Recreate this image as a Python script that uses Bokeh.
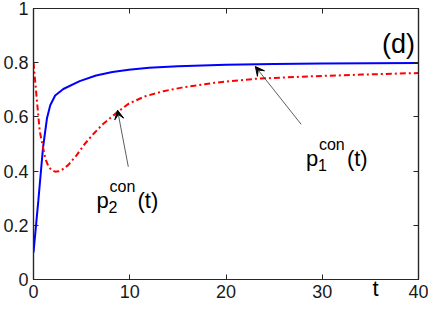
from bokeh.plotting import figure
from bokeh.models import Range1d, FixedTicker, LinearAxis, Label, Arrow, VeeHead
from bokeh.embed import file_html
from bokeh.resources import INLINE

# ---- data ----
t_p1 = [0, 0.5, 0.99, 1.4, 1.74, 2.25, 3.1, 4.8, 6.5, 8.2, 9.9, 12, 15, 20, 25, 30, 35, 40]
p1_con = [0.10, 0.29, 0.487, 0.595, 0.643, 0.679, 0.703, 0.732, 0.753, 0.766, 0.774,
          0.781, 0.787, 0.792, 0.795, 0.797, 0.798, 0.799]

t_p2 = [0, 0.2, 0.38, 0.65, 0.99, 1.23, 1.57, 1.9, 2.25, 2.6, 2.93, 3.6, 4.47, 5.3, 6.17,
        7.2, 8.56, 9.9, 11.6, 13.5, 15.4, 18.8, 23.2, 29, 34.1, 40]
p2_con = [0.80, 0.722, 0.65, 0.547, 0.487, 0.446, 0.416, 0.403, 0.398, 0.399, 0.404, 0.422,
          0.458, 0.499, 0.535, 0.573, 0.613, 0.649, 0.676, 0.695, 0.708, 0.726, 0.741,
          0.750, 0.756, 0.762]

x_ticks = [0, 10, 20, 30, 40]
x_tick_labels = ["0", "10", "20", "30", "40"]
y_ticks = [0, 0.2, 0.4, 0.6, 0.8, 1]
y_tick_labels = ["0", "0.2", "0.4", "0.6", "0.8", "1"]

FONT = "Liberation Sans"
INK = "#262626"

p = figure(width=428, height=300, x_range=Range1d(0, 40), y_range=Range1d(0, 1),
           output_backend="svg", toolbar_location=None,
           min_border_left=0, min_border_right=10, min_border_top=8, min_border_bottom=0)
p.grid.visible = False
p.background_fill_color = "white"
p.border_fill_color = "white"
p.outline_line_color = INK
p.outline_line_width = 1.2

p.xaxis.ticker = FixedTicker(ticks=x_ticks)
p.yaxis.ticker = FixedTicker(ticks=y_ticks)
p.xaxis.major_label_overrides = dict(zip(x_ticks, x_tick_labels))
p.yaxis.major_label_overrides = dict(zip(y_ticks, y_tick_labels))
for ax in (p.xaxis, p.yaxis):
    ax.major_tick_in = 5
    ax.major_tick_out = 0
    ax.minor_tick_line_color = None
    ax.major_tick_line_color = INK
    ax.axis_line_color = INK
    ax.axis_line_width = 1.2
    ax.major_label_text_font = FONT
    ax.major_label_text_font_size = "18px"
    ax.major_label_text_color = "#1a1a1a"
p.xaxis.major_label_standoff = 5
p.yaxis.major_label_standoff = 5

for side, ticks in (("above", x_ticks), ("right", y_ticks)):
    ax = LinearAxis(ticker=FixedTicker(ticks=ticks), major_tick_in=5, major_tick_out=0,
                    minor_tick_line_color=None, major_label_text_font_size="0px",
                    major_label_standoff=0, axis_line_color=INK, axis_line_width=1.2,
                    major_tick_line_color=INK)
    p.add_layout(ax, side)

p.line(t_p1, p1_con, line_color="#0000ff", line_width=2)
p.line(t_p2, p2_con, line_color="#ff0000", line_width=2, line_dash="6 3 2 3")

# arrows
p.add_layout(Arrow(x_start=27.8, y_start=0.573, x_end=23.05, y_end=0.786,
                   line_color="#333333", line_width=0.8,
                   end=VeeHead(size=9, line_color="black", line_width=1)))
p.add_layout(Arrow(x_start=9.85, y_start=0.416, x_end=8.73, y_end=0.625,
                   line_color="#333333", line_width=0.8,
                   end=VeeHead(size=9, line_color="black", line_width=1)))


def math_label(x, y, sub):
    pieces = [("p", 0, 0, "22px"), (sub, 12, -7, "16px"), ("con", 13, 14, "16px"),
              ("(t)", 41, 0, "22px")]
    for txt, dx, dy, fs in pieces:
        p.add_layout(Label(x=x, y=y, x_offset=dx, y_offset=dy, text=txt, text_font=FONT,
                           text_font_size=fs, text_color="black",
                           text_baseline="alphabetic", text_align="left"))


math_label(28.3, 0.448, "1")
math_label(6.55, 0.293, "2")

p.add_layout(Label(x=36.2, y=0.87, text="(d)", text_font=FONT, text_font_size="27px",
                   text_color="black", text_baseline="alphabetic"))
# x-axis label "t": kept in the (narrow) right border panel, placed in screen units
p.add_layout(Label(x=-46, y=-21, x_units="screen", y_units="screen", text="t",
                   text_font=FONT, text_font_size="22px", text_color="black",
                   text_baseline="bottom", text_align="left"), "right")

open("out.html", "w").write(file_html(p, INLINE))
